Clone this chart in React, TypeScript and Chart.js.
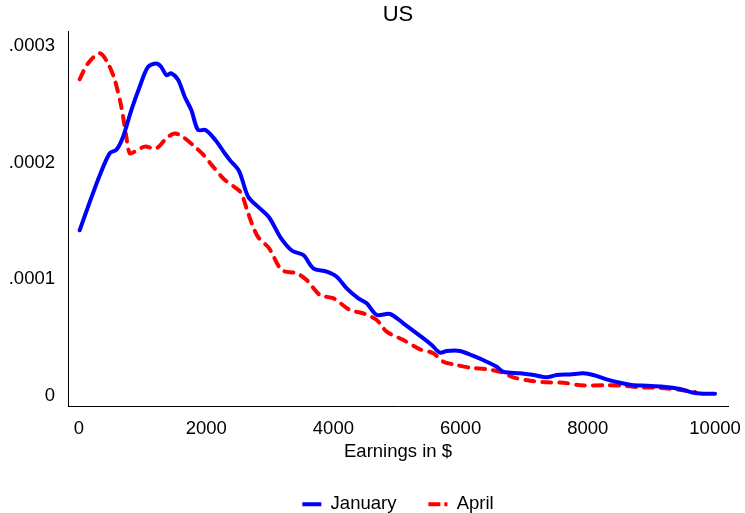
import { useEffect, useRef } from 'react';
import { Chart, registerables } from 'chart.js';

Chart.register(...registerables);

const januaryEarnings = [10, 141, 325, 482, 587, 692, 823, 954, 1085, 1216, 1294, 1373, 1451, 1557, 1662, 1766, 1871, 1990, 2150, 2291, 2374, 2515, 2660, 2830, 2990, 3170, 3350, 3527, 3684, 3894, 4051, 4209, 4392, 4523, 4681, 4890, 5099, 5390, 5545, 5676, 5781, 5991, 6200, 6410, 6567, 6672, 6934, 7144, 7353, 7511, 7720, 7929, 8086, 8297, 8506, 8690, 8926, 9187, 9450, 9659, 9816, 10000];
const januaryDensity = [1.42e-4, 1.62e-4, 1.89e-4, 2.08e-4, 2.11e-4, 2.22e-4, 2.45e-4, 2.65e-4, 2.82e-4, 2.85e-4, 2.82e-4, 2.75e-4, 2.765e-4, 2.71e-4, 2.565e-4, 2.45e-4, 2.28e-4, 2.28e-4, 2.19e-4, 2.08e-4, 2.02e-4, 1.93e-4, 1.708e-4, 1.615e-4, 1.53e-4, 1.358e-4, 1.245e-4, 1.208e-4, 1.094e-4, 1.065e-4, 1.022e-4, 0.923e-4, 0.837e-4, 0.794e-4, 0.694e-4, 0.703e-4, 0.623e-4, 0.504e-4, 0.437e-4, 0.371e-4, 0.386e-4, 0.386e-4, 0.343e-4, 0.294e-4, 0.251e-4, 0.208e-4, 0.194e-4, 0.18e-4, 0.16e-4, 0.18e-4, 0.185e-4, 0.194e-4, 0.18e-4, 0.143e-4, 0.114e-4, 0.094e-4, 0.088e-4, 0.08e-4, 0.06e-4, 0.028e-4, 0.02e-4, 0.02e-4];

const aprilEarnings = [10, 141, 325, 456, 561, 665, 744, 797, 876, 1033, 1216, 1373, 1504, 1635, 1819, 1950, 2120, 2280, 2460, 2552, 2660, 2804, 2990, 3187, 3423, 3580, 3789, 4000, 4261, 4470, 4681, 4838, 5099, 5362, 5571, 5728, 5885, 6148, 6410, 6619, 6829, 7091, 7353, 7615, 7877, 8297, 8558, 8821, 9083, 9345, 9555, 9686];
const aprilDensity = [2.714e-4, 2.85e-4, 2.937e-4, 2.85e-4, 2.71e-4, 2.48e-4, 2.22e-4, 2.08e-4, 2.094e-4, 2.137e-4, 2.122e-4, 2.208e-4, 2.25e-4, 2.22e-4, 2.137e-4, 2.07e-4, 1.958e-4, 1.858e-4, 1.785e-4, 1.737e-4, 1.565e-4, 1.372e-4, 1.265e-4, 1.08e-4, 1.051e-4, 0.994e-4, 0.865e-4, 0.837e-4, 0.737e-4, 0.708e-4, 0.651e-4, 0.551e-4, 0.48e-4, 0.40e-4, 0.366e-4, 0.294e-4, 0.271e-4, 0.243e-4, 0.229e-4, 0.208e-4, 0.16e-4, 0.131e-4, 0.117e-4, 0.114e-4, 0.092e-4, 0.092e-4, 0.088e-4, 0.075e-4, 0.071e-4, 0.06e-4, 0.045e-4, 0.034e-4];

const xTickValues = [0, 2000, 4000, 6000, 8000, 10000];
const yTickValues = [0, 0.0001, 0.0002, 0.0003];
const yTickLabels = ['0', '.0001', '.0002', '.0003'];
const seriesLabels = ['January', 'April'];
const seriesColors = ['#0000ff', '#ff0000'];

const FONT = "'Liberation Sans', Arial, Helvetica, sans-serif";

export default function App() {
  const ref = useRef<HTMLCanvasElement>(null);
  useEffect(() => {
    document.body.style.margin = '0';
    const canvas = ref.current;
    if (!canvas) return;
    const chart = new Chart(canvas, {
      type: 'line',
      data: {
        datasets: [
          {
            label: seriesLabels[0],
            data: januaryEarnings.map((x, i) => ({ x, y: januaryDensity[i] })),
            borderColor: seriesColors[0],
            backgroundColor: seriesColors[0],
            borderWidth: 4,
            pointRadius: 0,
            tension: 0.3,
            fill: false,
            borderCapStyle: 'round',
            borderJoinStyle: 'round',
          },
          {
            label: seriesLabels[1],
            data: aprilEarnings.map((x, i) => ({ x, y: aprilDensity[i] })),
            borderColor: seriesColors[1],
            backgroundColor: seriesColors[1],
            borderWidth: 4,
            pointRadius: 0,
            tension: 0.3,
            fill: false,
            borderDash: [9, 8],
            borderCapStyle: 'round',
            borderJoinStyle: 'round',
          },
        ],
      },
      options: {
        responsive: false,
        animation: false,
        layout: { padding: { left: 0, right: 17, top: 0, bottom: 0 } },
        font: { family: FONT },
        plugins: {
          tooltip: { enabled: false },
          title: {
            display: true,
            text: 'US',
            fullSize: false,
            color: '#000',
            font: { family: FONT, size: 22, weight: 'normal' },
            padding: { top: 1.5, bottom: 3.1 },
          },
          legend: {
            display: true,
            position: 'bottom',
            fullSize: false,
            maxHeight: 50,
            labels: {
              usePointStyle: true,
              pointStyleWidth: 19,
              padding: 32,
              color: '#000',
              font: { family: FONT, size: 18.5 },
              generateLabels: (ch: any) => {
                const items = (Chart.defaults.plugins.legend.labels as any).generateLabels(ch);
                return items.map((it: any, i: number) => ({
                  ...it,
                  pointStyle: 'line',
                  lineWidth: 4,
                  strokeStyle: seriesColors[i],
                  fillStyle: seriesColors[i],
                  lineDash: i === 1 ? [12, 4] : [],
                  lineCap: 'butt',
                }));
              },
            },
          },
        },
        scales: {
          x: {
            type: 'linear',
            min: -173,
            max: 10204,
            afterBuildTicks: (s: any) => {
              s.ticks = xTickValues.map((v) => ({ value: v }));
            },
            afterFit: (s: any) => {
              s.height = 56.5;
              s.paddingLeft = 0;
              s.paddingRight = 0;
            },
            grid: { display: true, drawOnChartArea: false, drawTicks: false },
            border: { display: true, color: '#000', width: 1 },
            ticks: {
              color: '#000',
              padding: 11,
              maxRotation: 0,
              autoSkip: false,
              font: { family: FONT, size: 18.5 },
              callback: (v: any) => String(v),
            },
            title: {
              display: true,
              text: 'Earnings in $',
              color: '#000',
              font: { family: FONT, size: 18.5 },
              padding: { top: 0, bottom: 0 },
            },
          },
          y: {
            type: 'linear',
            min: -0.000009,
            max: 0.0003128,
            afterBuildTicks: (s: any) => {
              s.ticks = yTickValues.map((v) => ({ value: v }));
            },
            afterFit: (s: any) => {
              s.width = 68;
              s.paddingTop = 0;
              s.paddingBottom = 0;
            },
            grid: { display: true, drawOnChartArea: false, drawTicks: false },
            border: { display: true, color: '#000', width: 1 },
            ticks: {
              color: '#000',
              padding: 13,
              autoSkip: false,
              font: { family: FONT, size: 18.5 },
              callback: (_v: any, i: number) => yTickLabels[i],
            },
          },
        },
      },
    });
    return () => chart.destroy();
  }, []);
  return (
    <div style={{ width: 745, height: 513 }}>
      <canvas ref={ref} width={745} height={513} style={{ width: 745, height: 513, display: 'block' }} />
    </div>
  );
}
